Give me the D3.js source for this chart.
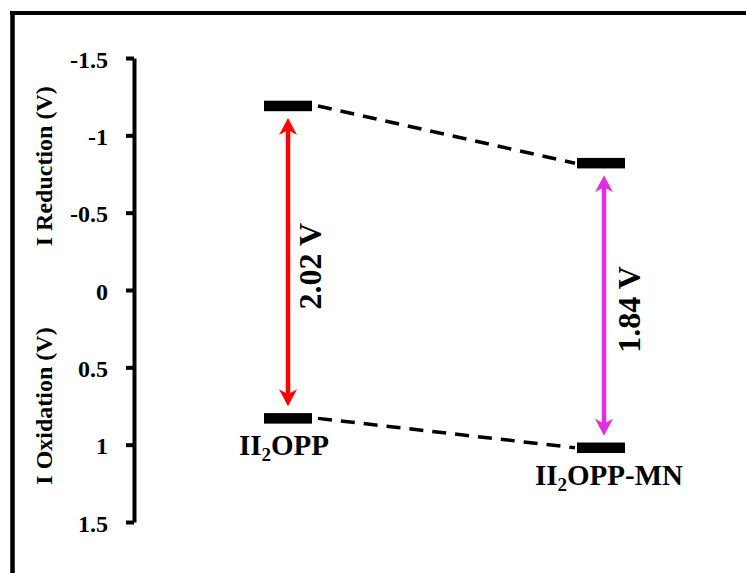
<!DOCTYPE html>
<html>
<head>
<meta charset="utf-8">
<script src="https://cdn.jsdelivr.net/npm/d3@7/dist/d3.min.js"></script>
<style>
  html, body { margin: 0; padding: 0; background: #fff; }
  svg text { font-family: "Liberation Serif", "Times New Roman", serif; font-weight: bold; fill: #000; }
</style>
</head>
<body>
<svg id="chart" width="746" height="573"></svg>
<script>
// ---- data ----
const categories = ["II2OPP", "II2OPP-MN"];
const reduction = [-1.19, -0.82];   // V (plotted on inverted axis, top)
const oxidation = [0.83, 1.02];     // V
const gapLabels = ["2.02 V", "1.84 V"];
const arrowColors = ["#ff0000", "#e22ee2"];
const tickValues = [-1.5, -1, -0.5, 0, 0.5, 1, 1.5];
const tickLabels = ["-1.5", "-1", "-0.5", "0", "0.5", "1", "1.5"];
const axisTitles = ["I Reduction (V)", "I Oxidation (V)"];

// ---- layout ----
const W = 746, H = 573;
const svg = d3.select("#chart");

// frame (top and left borders)
svg.append("line").attr("x1", 10).attr("x2", W).attr("y1", 13).attr("y2", 13)
  .attr("stroke", "#000").attr("stroke-width", 4);
svg.append("line").attr("x1", 12.5).attr("x2", 12.5).attr("y1", 11).attr("y2", H)
  .attr("stroke", "#000").attr("stroke-width", 4.5);

const y = d3.scaleLinear().domain([-1.5, 1.5]).range([58, 522]);
const x = d3.scalePoint().domain(categories).range([288, 601]);

// axis
const axisX = 134;
const axis = d3.axisLeft(y)
  .tickValues(tickValues)
  .tickFormat((d, i) => tickLabels[i])
  .tickSize(8)
  .tickSizeOuter(0)
  .tickPadding(18);
const gAxis = svg.append("g").attr("transform", `translate(${axisX},0)`).call(axis);
gAxis.select(".domain").attr("stroke", "#000").attr("stroke-width", 4);
gAxis.selectAll(".tick line").attr("stroke", "#000").attr("stroke-width", 4);
gAxis.selectAll(".tick text")
  .style("font-family", '"Liberation Serif", "Times New Roman", serif')
  .style("font-weight", "bold")
  .style("font-size", "24px")
  .attr("fill", "#000")
  .attr("dy", "0.38em");

// axis titles
const titleCenters = [y(-0.8), y(0.75)];
axisTitles.forEach((t, i) => {
  svg.append("text")
    .attr("transform", `translate(52,${titleCenters[i]}) rotate(-90)`)
    .attr("text-anchor", "middle")
    .style("font-size", "24px")
    .text(t);
});

const barW = 48, barH = 10.5;
const gap = 12;

// dashed connectors
[reduction, oxidation].forEach(vals => {
  const a = categories[0], b = categories[1];
  svg.append("line")
    .attr("x1", x(a) + barW / 2 + 6).attr("y1", y(vals[0]))
    .attr("x2", x(b) - barW / 2 - 2).attr("y2", y(vals[1]))
    .attr("stroke", "#000").attr("stroke-width", 3.5)
    .attr("stroke-dasharray", "14,9");
});

// bars (energy levels)
categories.forEach((c, i) => {
  [reduction[i], oxidation[i]].forEach(v => {
    svg.append("rect")
      .attr("x", x(c) - barW / 2).attr("y", y(v) - barH / 2)
      .attr("width", barW).attr("height", barH)
      .attr("fill", "#000");
  });
});

// arrows
function head(cx, tipY, dir, color) {
  // dir = -1 pointing up, +1 pointing down
  const L = 17, Wd = 9, notch = 5;
  const p = d3.path();
  p.moveTo(cx, tipY);
  p.lineTo(cx - Wd, tipY - dir * L);
  p.lineTo(cx, tipY - dir * (L - notch));
  p.lineTo(cx + Wd, tipY - dir * L);
  p.closePath();
  svg.append("path").attr("d", p.toString()).attr("fill", color);
}
categories.forEach((c, i) => {
  const cx = x(c) + i * 3;
  const top = y(reduction[i]) + gap;
  const bot = y(oxidation[i]) - gap;
  svg.append("line")
    .attr("x1", cx).attr("x2", cx)
    .attr("y1", top + 10).attr("y2", bot - 10)
    .attr("stroke", arrowColors[i]).attr("stroke-width", 4.5);
  head(cx, top, -1, arrowColors[i]);
  head(cx, bot, 1, arrowColors[i]);

  // gap label
  const mid = (y(reduction[i]) + y(oxidation[i])) / 2;
  svg.append("text")
    .attr("transform", `translate(${cx + 33 + i * 3},${mid + 4}) rotate(-90)`)
    .attr("text-anchor", "middle")
    .style("font-size", "32px")
    .text(gapLabels[i]);

  // category label with subscript
  const m = c.match(/^([A-Z]+)(\d)(.*)$/);
  const t = svg.append("text")
    .attr("x", x(c) - 4 + i * 12).attr("y", y(oxidation[i]) + 37)
    .attr("text-anchor", "middle")
    .style("font-size", "29px");
  t.append("tspan").text(m[1]);
  t.append("tspan").attr("dy", 6).style("font-size", "19px").text(m[2]);
  t.append("tspan").attr("dy", -6).text(m[3]);
});
</script>
</body>
</html>
